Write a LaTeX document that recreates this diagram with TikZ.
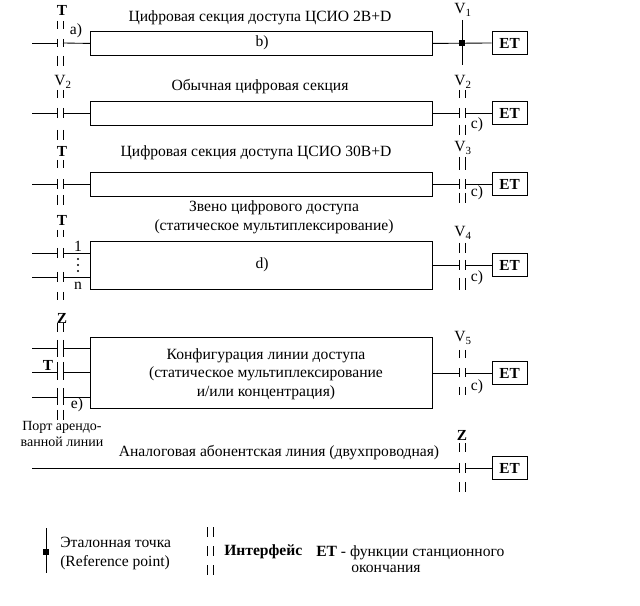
\documentclass[tikz,border=0pt]{standalone}
\usepackage{fontspec}
\setmainfont{Liberation Serif}
\begin{document}
\begin{tikzpicture}[x=0.75pt,y=-0.75pt,
  ln/.style={line width=0.65pt},
  blk/.style={draw, line width=0.65pt, inner sep=0pt, anchor=north west, minimum width=256.5pt},
  etbox/.style={draw, line width=0.65pt, inner sep=0pt, minimum width=26.25pt, minimum height=17.25pt, font=\fontsize{11.5pt}{13pt}\selectfont\bfseries},
  txt/.style={inner sep=0pt, font=\fontsize{11.7pt}{14pt}\selectfont},
  lbl/.style={inner sep=0pt, font=\fontsize{11.5pt}{13pt}\selectfont\bfseries},
  sm/.style={inner sep=0pt, font=\fontsize{10.5pt}{12.5pt}\selectfont}]
\useasboundingbox (0,0) rectangle (640,606);
% ---------- main blocks ----------
\node[blk, minimum height=18pt] (b1) at (90,31) {};
\node[blk, minimum height=18pt] (b2) at (90,101) {};
\node[blk, minimum height=18pt] (b3) at (90,172) {};
\node[blk, minimum height=36pt] (b4) at (90,241) {};
\node[blk, minimum height=53.25pt] (b5) at (90,337) {};
% ---------- ET boxes ----------
\node[etbox] (et1) at (509.5,43) {ET};
\node[etbox] (et2) at (509.5,113) {ET};
\node[etbox] (et3) at (509.5,184) {ET};
\node[etbox] (et4) at (509.5,265) {ET};
\node[etbox] (et5) at (509.5,373) {ET};
\node[etbox] (et6) at (509.5,468) {ET};
% ---------- texts ----------
\node[txt] (t1) at (260,18) {Цифровая секция доступа ЦСИО 2B+D};
\node[txt] (t2) at (260,87) {Обычная цифровая секция};
\node[txt] (t3) at (256,153) {Цифровая секция доступа ЦСИО 30B+D};
\node[txt, align=center] (t4) at (274,217) {Звено цифрового доступа\\(статическое мультиплексирование)};
\node[txt, align=center] (t5) at (266,374) {Конфигурация линии доступа\\(статическое мультиплексирование\\и/или концентрация)};
\node[txt] (t6) at (279,453) {Аналоговая абонентская линия (двухпроводная)};
\node[txt] (bb) at (262,43) {b)};
\node[txt] (dd) at (262,265) {d)};
\node[txt] (aa) at (76,31) {a)};
\node[txt] (ee) at (77,405) {e)};
\foreach \yy/\nm in {125/c2,193/c3,278/c4,387/c5}{\node[txt] (\nm) at (477,\yy) {c)};}
\node[txt] (one) at (78,246) {1};
\foreach \yy in {259,265,271}{\fill (78,\yy) circle (0.9pt);}
\node[txt] (nn) at (78,286) {n};
\node[sm, align=center] (port) at (62,434) {Порт арендо-\\ванной линии};
% ---------- interface labels ----------
\node[lbl] (L1) at (62,10) {T};
\node[txt] (L2) at (63,82) {V\textsubscript{2}};
\node[lbl] (L3) at (62,151) {T};
\node[lbl] (L4) at (62,220) {T};
\node[lbl] (L5) at (62,318) {Z};
\node[lbl] (L5b) at (48,365) {T};
\node[txt] (R1) at (463,10) {V\textsubscript{1}};
\node[txt] (R2) at (463,82) {V\textsubscript{2}};
\node[txt] (R3) at (463,148) {V\textsubscript{3}};
\node[txt] (R4) at (463,233) {V\textsubscript{4}};
\node[txt] (R5) at (463,338) {V\textsubscript{5}};
\node[lbl] (R6) at (462,435) {Z};
% ---------- interface bars (double dashes) ----------
\foreach \ya/\yb in {21/29,39/47,56/66,90/98,108/118,130/140,160/168,179/189,195/205,230/237,248/258,272/282,292/300,323/332,340/357,362/380,388/405,410/420}
  {\draw[ln] (57,\ya) -- (57,\yb) (63,\ya) -- (63,\yb);}
\foreach \ya/\yb in {90/98,108/118,125/135,157/170,179/189,193/203,243/253,260/270,278/290,350/358,368/377,387/395,443/452,463/473,482/492}
  {\draw[ln] (459,\ya) -- (459,\yb) (465,\ya) -- (465,\yb);}
% ---------- reference point ----------
\coordinate (rpt) at (462,20);
\coordinate (rpb) at (462,65);
\draw[ln] (rpt) -- (rpb);
\node[fill, minimum size=4pt, inner sep=0pt] (rp) at (462,43) {};
% ---------- connectors ----------
% row 1
\coordinate (a1) at (32,43); \coordinate (a1l) at (57,43); \coordinate (a1r) at (63,43);
\draw[ln] (a1) -- (a1l); \draw[ln] (a1r) -- (b1.west);
\draw[ln] (b1.east) -- (et1.west);
% rows 2,3
\foreach \r/\yy in {2/113,3/184}{
  \coordinate (a\r) at (32,\yy); \coordinate (a\r l) at (57,\yy); \coordinate (a\r r) at (63,\yy);
  \coordinate (z\r l) at (459,\yy); \coordinate (z\r r) at (465,\yy);
  \draw[ln] (a\r) -- (a\r l); \draw[ln] (a\r r) -- (a\r r -| b\r.west);
  \draw[ln] (b\r.east |- z\r l) -- (z\r l); \draw[ln] (z\r r) -- (z\r r -| et\r.west);}
% row 4
\foreach \k/\yy in {1/253,2/277}{
  \coordinate (p\k) at (32,\yy); \coordinate (p\k l) at (57,\yy); \coordinate (p\k r) at (63,\yy);
  \draw[ln] (p\k) -- (p\k l); \draw[ln] (p\k r) -- (p\k r -| b4.west);}
\coordinate (z4l) at (459,265); \coordinate (z4r) at (465,265);
\draw[ln] (b4.east |- z4l) -- (z4l); \draw[ln] (z4r) -- (z4r -| et4.west);
% row 5
\foreach \k/\yy in {1/348,2/372,3/397}{
  \coordinate (q\k) at (32,\yy); \coordinate (q\k l) at (57,\yy); \coordinate (q\k r) at (63,\yy);
  \draw[ln] (q\k) -- (q\k l); \draw[ln] (q\k r) -- (q\k r -| b5.west);}
\coordinate (z5l) at (459,373); \coordinate (z5r) at (465,373);
\draw[ln] (b5.east |- z5l) -- (z5l); \draw[ln] (z5r) -- (z5r -| et5.west);
% row 6
\coordinate (s6) at (32,468); \coordinate (z6l) at (459,468); \coordinate (z6r) at (465,468);
\draw[ln] (s6) -- (z6l); \draw[ln] (z6r) -- (z6r -| et6.west);
% ---------- legend ----------
\coordinate (lgt) at (46,528); \coordinate (lgb) at (46,573);
\draw[ln] (lgt) -- (lgb);
\node[fill, minimum size=4pt, inner sep=0pt] (lgsq) at (46,552) {};
\node[txt, anchor=west] (lg1) at (60,542) {Эталонная точка};
\node[txt, anchor=west] (lg2) at (60,563) {(Reference point)};
\foreach \ya/\yb in {527/537,546/556,565/575}
  {\draw[ln] (207,\ya) -- (207,\yb) (213,\ya) -- (213,\yb);}
\node[txt, anchor=west, font=\fontsize{11.7pt}{14pt}\selectfont\bfseries] (lg3) at (224,552) {Интерфейс};
\node[txt, anchor=west] (lg4) at (316,553) {\textbf{ET} - функции станционного};
\node[txt, anchor=west] (lg5) at (351,569) {окончания};
\end{tikzpicture}
\end{document}
